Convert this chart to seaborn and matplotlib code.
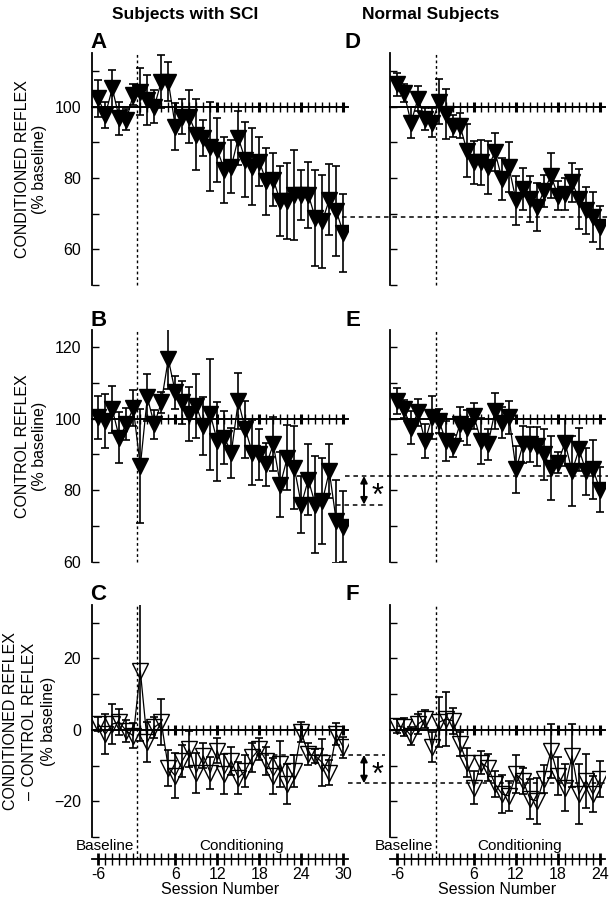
#!/usr/bin/env python3
from __future__ import annotations

import matplotlib

matplotlib.use("Agg")
import matplotlib.pyplot as plt
import matplotlib.transforms as mtransforms
from matplotlib.ticker import FixedFormatter, FixedLocator, NullFormatter, NullLocator
import numpy as np
import pandas as pd
import seaborn as sns


# ---- data (% of baseline) ----
BASELINE_SESSIONS = [-6, -5, -4, -3, -2, -1]
SCI_SESSIONS = BASELINE_SESSIONS + list(range(1, 31))
NORMAL_SESSIONS = BASELINE_SESSIONS + list(range(1, 25))

SCI_CONDITIONED = [102.3, 97.7, 105.1, 96.7, 96.3, 103.3,
                   104.2, 101.9, 100.0, 107.0, 107.0, 94.4, 97.2, 97.2, 92.1, 91.2,
                   88.8, 87.9, 82.3, 83.2, 91.2, 85.1, 83.2, 84.6, 79.0, 79.5,
                   73.5, 73.5, 75.3, 75.3, 75.3, 68.8, 67.9, 73.9, 70.7, 64.6]
SCI_CONDITIONED_SE = [5.1, 3.7, 5.1, 4.7, 3.0, 3.0,
                      6.7, 7.0, 4.5, 7.4, 5.4, 6.5, 5.0, 7.5, 10.0, 5.0,
                      12.5, 9.0, 9.3, 7.4, 7.5, 10.5, 10.7, 7.0, 9.3, 7.5,
                      9.8, 10.7, 12.6, 7.0, 9.3, 13.5, 13.0, 10.0, 12.6, 11.0]

SCI_CONTROL = [100.3, 99.3, 102.6, 94.7, 98.4, 102.9,
               86.7, 105.9, 98.4, 104.5, 116.6, 107.3, 104.5, 101.2, 103.5, 97.9,
               101.2, 93.7, 94.7, 90.5, 104.9, 97.0, 90.5, 90.0, 87.2, 92.8,
               81.6, 89.1, 86.3, 76.0, 83.0, 76.0, 76.9, 85.3, 71.3, 69.9]
SCI_CONTROL_SE = [6.0, 7.5, 6.5, 7.0, 4.5, 5.0,
                  15.9, 6.5, 4.0, 3.0, 8.4, 4.5, 6.0, 7.5, 9.0, 8.0,
                  15.5, 11.0, 7.5, 7.0, 7.7, 8.0, 9.0, 7.0, 6.0, 7.5,
                  9.0, 9.0, 11.5, 8.0, 10.0, 13.5, 12.0, 7.5, 11.5, 10.0]

SCI_DIFF = [1.6, -1.2, 1.6, 2.1, -0.3, -1.7,
            16.5, -3.5, 0.7, 2.1, -10.6, -12.9, -8.7, -5.4, -12.0, -7.3,
            -12.0, -5.9, -12.4, -8.7, -13.4, -11.5, -7.7, -5.4, -8.7, -12.9,
            -9.6, -15.2, -11.5, -0.7, -6.8, -7.3, -9.2, -12.0, -1.2, -4.9]
SCI_DIFF_SE = [2.0, 5.6, 5.6, 3.7, 3.0, 3.5,
               19.6, 5.6, 3.0, 6.5, 5.0, 6.3, 4.5, 5.0, 5.6, 3.5,
               4.5, 3.5, 5.6, 4.0, 4.5, 4.5, 4.0, 3.0, 4.0, 5.0,
               6.5, 5.6, 4.5, 2.8, 3.0, 2.0, 6.5, 3.5, 3.0, 3.0]

NORMAL_CONDITIONED = [106.2, 103.9, 95.5, 102.2, 96.5, 95.5,
                      101.3, 97.9, 94.6, 94.6, 87.6, 84.4, 84.4, 83.0, 87.2, 79.7,
                      83.0, 73.7, 76.9, 74.1, 71.8, 76.4, 80.6, 75.0, 75.5, 78.8,
                      74.1, 70.9, 69.0, 66.2]
NORMAL_CONDITIONED_SE = [3.3, 2.5, 4.4, 3.5, 3.0, 4.0,
                         6.3, 7.0, 3.0, 3.5, 7.4, 6.0, 6.3, 7.4, 5.3, 6.0,
                         7.0, 6.8, 6.0, 6.5, 6.8, 4.5, 6.3, 4.0, 4.5, 5.5,
                         8.4, 6.5, 7.0, 6.0]

NORMAL_CONTROL = [104.9, 102.6, 97.5, 101.7, 93.7, 100.3,
                  99.3, 93.7, 92.3, 98.4, 97.5, 100.7, 93.7, 92.8, 102.1, 98.9,
                  100.3, 85.8, 92.8, 92.8, 92.3, 90.0, 86.3, 87.7, 93.3, 85.3,
                  91.4, 85.3, 85.8, 80.2]
NORMAL_CONTROL_SE = [3.7, 2.5, 4.7, 3.7, 4.7, 6.0,
                     3.3, 5.6, 3.0, 4.7, 5.0, 3.7, 6.5, 4.3, 4.9, 4.2,
                     4.7, 6.5, 5.2, 4.9, 5.4, 7.0, 8.9, 3.0, 6.5, 9.8,
                     6.1, 6.5, 8.2, 6.3]

NORMAL_DIFF = [1.1, 0.7, -1.7, 1.6, 3.0, -4.9,
               2.1, 3.0, 2.5, -4.0, -9.2, -16.2, -9.2, -10.6, -15.2, -18.0,
               -18.5, -12.4, -14.3, -19.4, -19.9, -13.8, -5.9, -12.9, -16.2, -7.3,
               -18.0, -14.3, -18.0, -13.8]
NORMAL_DIFF_SE = [2.0, 2.5, 2.5, 2.8, 2.5, 4.2,
                  7.0, 7.5, 3.7, 3.3, 4.0, 4.7, 3.3, 3.7, 3.7, 5.4,
                  4.3, 5.4, 3.7, 5.6, 6.5, 4.0, 7.5, 5.4, 6.5, 8.8,
                  8.4, 7.5, 5.1, 5.0]

# final levels marked with dashed lines
CONDITIONED_FINAL = 69.0
SCI_CONTROL_FINAL, NORMAL_CONTROL_FINAL = 76.0, 84.0
SCI_DIFF_FINAL, NORMAL_DIFF_FINAL = -7.0, -15.0

ROW_LABELS = ["CONDITIONED REFLEX\n(% baseline)",
              "CONTROL REFLEX\n(% baseline)",
              "CONDITIONED REFLEX\n\u2013 CONTROL REFLEX\n(% baseline)"]
ROW_LABEL_SIZE = [11.5, 11.5, 11.5]
ROW_LABEL_SPACING = [1.2, 1.2, 1.32]
ROW_LABEL_X = [47, 47, 56]  # px, right edge of the label block
ROW_YTICKS = [[60, 80, 100], [60, 80, 100, 120], [-20, 0, 20]]
ROW_YMINOR = [[50, 70, 90, 110], [70, 90, 110], [-30, -10, 10, 30]]
ROW_YLIM = [(50, 115.0), (60, 124.7), (-30, 34.9)]
ROW_REF = [100, 100, 0]
BOTTOM_TICK_SESSIONS = [-6, 6, 12, 18, 24, 30]

# ---- layout (pixels of a 611 x 899 canvas) ----
FIG_W, FIG_H = 611, 899
ROW_TOPS = [53, 330, 605]
ROW_H = 232
LEFT_X, LEFT_W = 92, 256
RIGHT_X, RIGHT_W = 390, 215
LEFT_XLIM = (-5.9, 30.67)
RIGHT_XLIM = (-6.0, 24.71)
BOTTOM_DROP = 22  # px between panel bottom and session axis


def _rect(x, top, w, h):
    return [x / FIG_W, 1 - (top + h) / FIG_H, w / FIG_W, h / FIG_H]


def session_pos(sessions):
    s = np.asarray(sessions, dtype=float)
    return np.where(s < 0, s + 1, s)


def _apply_style() -> None:
    sns.set_theme(style="ticks")
    plt.rcParams.update(
        {
            "font.family": ["Liberation Sans", "DejaVu Sans"],
            "axes.edgecolor": "black",
            "axes.linewidth": 1.3,
            "xtick.color": "black",
            "ytick.color": "black",
            "text.color": "black",
            "axes.labelcolor": "black",
        }
    )


def draw_panel(ax, sessions, values, se, row, xlim, open_marker, left_col, bottom_row):
    df = pd.DataFrame(
        {"session": sessions, "pos": session_pos(sessions), "value": values, "se": se}
    )
    ylim = ROW_YLIM[row]
    ax.set_xlim(*xlim)
    ax.set_ylim(*ylim)
    ax.set_autoscale_on(False)

    ax.errorbar(df["pos"], df["value"], yerr=df["se"], fmt="none", ecolor="black",
                elinewidth=1.2, capsize=2.8, capthick=1.2, zorder=2)
    sns.lineplot(data=df, x="pos", y="value", ax=ax, color="black", linewidth=0.9,
                 estimator=None, errorbar=None, marker="v", markersize=11,
                 markerfacecolor="none" if open_marker else "black",
                 markeredgecolor="black", markeredgewidth=1.0, zorder=3, legend=False)
    ax.set_xlim(*xlim)
    ax.set_ylim(*ylim)
    ax.set_xlabel("")
    ax.set_ylabel("")

    # reference line (100 % or 0) with a tick at every conditioning session
    cond = [p for p in df["pos"] if p >= 1]
    frac = (ROW_REF[row] - ylim[0]) / (ylim[1] - ylim[0])
    sec = ax.secondary_xaxis(frac)
    sec.xaxis.set_major_locator(FixedLocator([p for p in cond if p % 6 == 0]))
    sec.xaxis.set_minor_locator(FixedLocator([p for p in cond if p % 6 != 0]))
    sec.xaxis.set_major_formatter(NullFormatter())
    sec.tick_params(which="both", direction="inout", length=7, labelbottom=False,
                    labeltop=False, bottom=True, top=False)
    sec.tick_params(which="major", width=2.2)
    sec.tick_params(which="minor", width=1.0)
    for sp in sec.spines.values():
        sp.set_linewidth(1.4)

    # y axis
    sns.despine(ax=ax, top=True, right=True, bottom=not bottom_row)
    ax.yaxis.set_major_locator(FixedLocator(ROW_YTICKS[row]))
    ax.yaxis.set_minor_locator(FixedLocator(ROW_YMINOR[row]))
    ax.tick_params(axis="y", which="both", direction="in", length=5, width=1.0,
                   labelsize=11.5, pad=8, labelleft=left_col)
    if left_col:
        ax.set_ylabel(ROW_LABELS[row], fontsize=ROW_LABEL_SIZE[row],
                      linespacing=ROW_LABEL_SPACING[row])
        ax.yaxis.set_label_coords((ROW_LABEL_X[row] - LEFT_X) / LEFT_W, 0.5)

    # start of conditioning
    drop = -BOTTOM_DROP / ROW_H if bottom_row else 0
    ax.axvline(0.5, ymin=drop, ymax=1, color="black", lw=1.0, ls=(0, (2, 2)),
               clip_on=False, zorder=1)

    if bottom_row:
        all_pos = list(df["pos"])
        major_pos = session_pos([s for s in BOTTOM_TICK_SESSIONS if s in sessions])
        major_lab = [str(s) for s in BOTTOM_TICK_SESSIONS if s in sessions]
        ax.spines["bottom"].set_position(("outward", BOTTOM_DROP * 72 / 100))
        ax.xaxis.set_major_locator(FixedLocator(major_pos))
        ax.xaxis.set_major_formatter(FixedFormatter(major_lab))
        ax.xaxis.set_minor_locator(FixedLocator(all_pos))
        ax.tick_params(axis="x", which="both", direction="inout", length=8,
                       labelsize=11.5, pad=2)
        ax.tick_params(axis="x", which="major", width=2.0)
        ax.tick_params(axis="x", which="minor", width=1.0)
        ax.set_xlabel("Session Number", fontsize=11.5, labelpad=0)
        tr = mtransforms.blended_transform_factory(ax.transData, ax.transAxes)
        ax.text(0.1, -9 / ROW_H, "Baseline", transform=tr, ha="right", va="center",
                fontsize=11)
        ax.text(np.mean(cond), -9 / ROW_H, "Conditioning", transform=tr,
                ha="center", va="center", fontsize=11)
    else:
        ax.xaxis.set_major_locator(NullLocator())
        ax.xaxis.set_minor_locator(NullLocator())
    return df


def _fig_x(fig, ax, x):
    disp = ax.transData.transform((x, 0))
    return fig.transFigure.inverted().transform(disp)[0]


def level_lines(fig, ax_left, ax_right, sci_level, normal_level, sci_start, normal_start):
    tr = mtransforms.blended_transform_factory(fig.transFigure, ax_right.transData)
    x_end = _fig_x(fig, ax_right, RIGHT_XLIM[1]) + 3 / FIG_W
    x_gap_end = _fig_x(fig, ax_right, RIGHT_XLIM[0]) - 5 / FIG_W
    style = dict(color="black", lw=1.1, ls=(0, (3, 2.5)), clip_on=False, zorder=1)
    x0n = _fig_x(fig, ax_left, normal_start)
    ax_right.plot([x0n, x_end], [normal_level, normal_level], transform=tr, **style)
    if sci_level != normal_level:
        x0s = _fig_x(fig, ax_left, sci_start)
        ax_right.plot([x0s, x_gap_end], [sci_level, sci_level], transform=tr, **style)
        x_arrow = 364 / FIG_W
        ax_right.annotate("", xy=(x_arrow, sci_level), xytext=(x_arrow, normal_level),
                          xycoords=tr, textcoords=tr, annotation_clip=False,
                          arrowprops=dict(arrowstyle="<|-|>", color="black", lw=1.4,
                                          mutation_scale=10, shrinkA=0, shrinkB=0))
        ax_right.text(377 / FIG_W, (sci_level + normal_level) / 2 - 1.8, "*",
                      transform=tr, ha="center", va="center", fontsize=22,
                      clip_on=False)


def main() -> int:
    _apply_style()
    fig = plt.figure(figsize=(FIG_W / 100, FIG_H / 100), dpi=100)

    sci = [(SCI_CONDITIONED, SCI_CONDITIONED_SE), (SCI_CONTROL, SCI_CONTROL_SE),
           (SCI_DIFF, SCI_DIFF_SE)]
    normal = [(NORMAL_CONDITIONED, NORMAL_CONDITIONED_SE),
              (NORMAL_CONTROL, NORMAL_CONTROL_SE), (NORMAL_DIFF, NORMAL_DIFF_SE)]
    letters = [("A", "D"), ("B", "E"), ("C", "F")]

    axes = []
    for row in range(3):
        top = ROW_TOPS[row]
        ax_l = fig.add_axes(_rect(LEFT_X, top, LEFT_W, ROW_H))
        ax_r = fig.add_axes(_rect(RIGHT_X, top, RIGHT_W, ROW_H))
        ax_l.patch.set_alpha(0)
        ax_r.patch.set_alpha(0)
        draw_panel(ax_l, SCI_SESSIONS, *sci[row], row, LEFT_XLIM, row == 2, True, row == 2)
        draw_panel(ax_r, NORMAL_SESSIONS, *normal[row], row, RIGHT_XLIM, row == 2, False,
                   row == 2)
        fig.text(98.5 / FIG_W, 1 - (top - 10) / FIG_H, letters[row][0], fontsize=16,
                 fontweight="bold", ha="center", va="center")
        fig.text(352.5 / FIG_W, 1 - (top - 10) / FIG_H, letters[row][1], fontsize=16,
                 fontweight="bold", ha="center", va="center")
        axes.append((ax_l, ax_r))

    level_lines(fig, *axes[0], CONDITIONED_FINAL, CONDITIONED_FINAL, 29.8, 29.8)
    level_lines(fig, *axes[1], SCI_CONTROL_FINAL, NORMAL_CONTROL_FINAL, 29.0, 30.3)
    level_lines(fig, *axes[2], SCI_DIFF_FINAL, NORMAL_DIFF_FINAL, 17.5, 30.7)

    fig.text(185 / FIG_W, 1 - 15 / FIG_H, "Subjects with SCI", fontsize=12.5,
             fontweight="bold", ha="center", va="center")
    fig.text(431 / FIG_W, 1 - 15 / FIG_H, "Normal Subjects", fontsize=12.5,
             fontweight="bold", ha="center", va="center")

    fig.savefig("out.png", dpi=100)
    plt.close(fig)
    return 0


if __name__ == "__main__":
    raise SystemExit(main())
